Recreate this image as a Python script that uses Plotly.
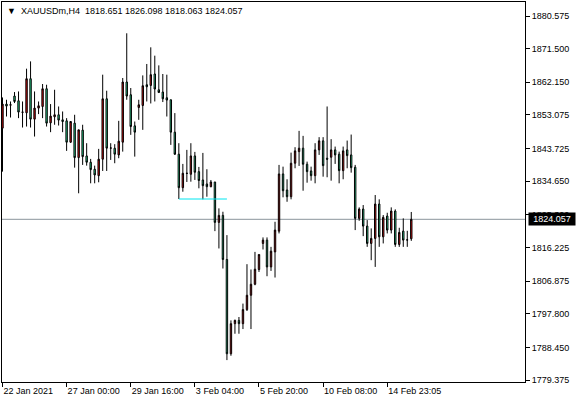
import plotly.graph_objects as go

symbol_title = "XAUUSDm,H4"

opens = [1849.41, 1856.10, 1855.80, 1858.33, 1857.01, 1853.80, 1853.67, 1863.15, 1851.91, 1854.98,
         1855.43, 1860.36, 1850.88, 1852.56, 1853.12, 1851.72, 1851.44, 1845.50, 1850.80, 1841.21,
         1848.85, 1841.68, 1839.93, 1837.98, 1836.19, 1840.77, 1857.57, 1843.83, 1843.83, 1841.96,
         1845.50, 1862.23, 1858.69, 1850.05, 1855.15, 1855.71, 1861.48, 1861.28, 1864.46, 1860.08,
         1859.44, 1857.86, 1857.30, 1848.29, 1842.16, 1832.85, 1836.80, 1836.58, 1841.68, 1837.31,
         1834.99, 1833.88, 1833.13, 1834.44, 1823.20, 1825.15, 1812.89, 1786.68, 1795.04, 1795.96,
         1795.04, 1798.95, 1802.94, 1806.00, 1810.10, 1817.35, 1818.27, 1810.82, 1815.00, 1820.77,
         1836.67, 1832.21, 1830.34, 1839.65, 1842.88, 1843.83, 1839.37, 1837.50, 1836.19, 1843.36,
         1845.87, 1841.04, 1841.32, 1843.36, 1842.16, 1837.59, 1843.36, 1841.96, 1838.53, 1824.32,
         1826.91, 1822.17, 1817.35, 1818.74, 1828.30, 1819.19, 1824.96, 1821.06, 1826.35, 1817.07,
         1820.77, 1818.27, 1818.651]
highs = [1857.94, 1857.30, 1856.82, 1859.44, 1859.61, 1856.82, 1865.94, 1867.97, 1859.61, 1856.82,
         1861.67, 1861.48, 1856.10, 1860.08, 1855.43, 1854.04, 1852.19, 1851.25, 1853.12, 1848.93,
         1850.35, 1845.22, 1840.85, 1838.98, 1843.64, 1864.27, 1859.81, 1845.22, 1844.95, 1851.44,
         1863.35, 1875.78, 1860.56, 1851.25, 1857.30, 1864.07, 1867.25, 1871.88, 1869.56, 1866.86,
         1864.46, 1864.27, 1857.30, 1853.59, 1845.22, 1839.46, 1843.36, 1845.22, 1842.80, 1838.62,
         1842.52, 1837.98, 1834.99, 1834.44, 1827.10, 1826.16, 1819.66, 1795.96, 1796.16, 1796.89,
         1800.62, 1811.58, 1810.10, 1815.00, 1814.28, 1819.02, 1819.02, 1816.40, 1823.37, 1839.18,
         1838.70, 1835.19, 1842.60, 1844.11, 1848.65, 1847.26, 1840.10, 1838.70, 1845.22, 1846.90,
         1846.90, 1855.43, 1846.34, 1844.28, 1842.88, 1844.28, 1845.95, 1847.62, 1839.18, 1827.38,
         1828.02, 1823.84, 1821.53, 1830.81, 1829.61, 1825.24, 1825.88, 1827.38, 1826.82, 1821.70,
         1824.32, 1820.86, 1826.098]
lows = [1837.31, 1852.64, 1852.36, 1856.38, 1852.19, 1849.58, 1849.85, 1849.58, 1847.07, 1853.31,
        1852.19, 1849.85, 1848.29, 1850.35, 1850.13, 1848.29, 1843.08, 1845.31, 1838.42, 1831.29,
        1839.18, 1838.98, 1834.07, 1834.07, 1834.35, 1837.50, 1837.50, 1840.57, 1839.65, 1841.04,
        1842.88, 1857.30, 1847.54, 1841.49, 1851.72, 1848.93, 1856.82, 1856.27, 1856.82, 1859.16,
        1856.66, 1852.64, 1844.75, 1841.96, 1829.70, 1831.73, 1834.44, 1834.52, 1835.00, 1832.68,
        1829.61, 1830.34, 1832.96, 1820.77, 1815.95, 1810.38, 1784.91, 1786.12, 1792.24, 1792.24,
        1793.54, 1798.56, 1793.54, 1805.72, 1809.43, 1815.67, 1808.23, 1809.71, 1807.87, 1820.13,
        1830.17, 1828.94, 1829.61, 1838.25, 1838.90, 1832.01, 1834.24, 1834.80, 1834.07, 1841.96,
        1835.91, 1835.75, 1834.80, 1839.46, 1834.07, 1835.19, 1838.25, 1837.03, 1821.06, 1823.65,
        1819.38, 1816.40, 1812.69, 1810.82, 1816.40, 1817.35, 1820.13, 1820.13, 1816.40, 1816.40,
        1816.40, 1816.40, 1818.063]
closes = [1856.10, 1855.54, 1855.90, 1856.82, 1853.87, 1853.87, 1863.15, 1851.91, 1854.98, 1855.62,
          1860.36, 1850.80, 1852.75, 1853.12, 1851.64, 1851.25, 1845.50, 1851.25, 1841.21, 1848.93,
          1841.49, 1839.93, 1837.87, 1836.39, 1840.77, 1857.57, 1843.83, 1843.90, 1842.16, 1845.78,
          1862.23, 1858.33, 1849.85, 1848.29, 1855.90, 1861.20, 1860.92, 1864.27, 1860.28, 1859.33,
          1857.57, 1857.21, 1848.29, 1842.16, 1832.85, 1836.86, 1836.86, 1841.68, 1837.14, 1834.85,
          1833.41, 1833.13, 1834.44, 1823.20, 1825.15, 1812.89, 1786.68, 1795.04, 1795.96, 1795.04,
          1798.95, 1802.94, 1806.00, 1810.18, 1814.28, 1818.27, 1810.82, 1815.20, 1821.06, 1836.67,
          1832.01, 1830.34, 1839.65, 1843.08, 1843.83, 1839.37, 1837.31, 1836.19, 1843.36, 1845.87,
          1838.98, 1840.77, 1843.36, 1841.96, 1837.59, 1843.08, 1841.77, 1838.42, 1824.32, 1826.91,
          1822.17, 1817.35, 1818.74, 1828.30, 1819.19, 1824.60, 1821.06, 1826.35, 1817.07, 1820.41,
          1818.27, 1818.35, 1824.057]

x_tick_index = [0, 16, 32, 48, 64, 80, 96]
x_tick_labels = ["22 Jan 2021", "27 Jan 00:00", "29 Jan 16:00", "3 Feb 04:00",
                 "5 Feb 20:00", "10 Feb 08:00", "14 Feb 23:05"]
y_tick_values = [1779.375, 1788.450, 1797.800, 1806.875, 1816.225, 1825.300,
                 1834.650, 1843.725, 1853.075, 1862.150, 1871.500, 1880.575]

level_start, level_end = 44, 56  # horizontal level drawn at the low of bar 44

bars = list(range(len(opens)))
FONT = "Liberation Sans, Arial, sans-serif"
UP_FILL = "#ee1010"
DOWN_FILL = "#2ef0a0"

fig = go.Figure(go.Candlestick(
    x=bars, open=opens, high=highs, low=lows, close=closes,
    increasing=dict(fillcolor=UP_FILL, line=dict(color="black", width=1)),
    decreasing=dict(fillcolor=DOWN_FILL, line=dict(color="black", width=1)),
    whiskerwidth=0, hoverinfo="skip",
))

fig.add_shape(type="line", xref="x", yref="y",
              x0=level_start, x1=level_end, y0=lows[level_start], y1=lows[level_start],
              line=dict(color="#00e6f0", width=1))
fig.add_shape(type="line", xref="paper", yref="y", x0=0, x1=1,
              y0=closes[-1], y1=closes[-1], line=dict(color="#8a949c", width=1), layer="below")

fig.add_annotation(xref="paper", yref="y", x=1, y=closes[-1], xanchor="left", yanchor="middle",
                   xshift=3, text=f"{closes[-1]:.3f}", showarrow=False, bgcolor="black",
                   font=dict(family=FONT, size=9, color="white"), borderpad=1, width=44)

title_text = ("\u25BC\u00a0\u00a0" + symbol_title + "\u00a0\u00a0"
              + " ".join(f"{v:.3f}" for v in (opens[-1], highs[-1], lows[-1], closes[-1])))
fig.add_annotation(xref="paper", yref="paper", x=0, y=1, xanchor="left", yanchor="top",
                   xshift=3, yshift=-2, text=title_text, showarrow=False,
                   font=dict(family=FONT, size=9, color="black"))

fig.update_layout(
    width=577, height=403, autosize=False,
    margin=dict(l=2, r=52, t=2, b=21),
    paper_bgcolor="white", plot_bgcolor="white",
    showlegend=False, boxgap=0.5,
    font=dict(family=FONT, size=9, color="black"),
    xaxis=dict(range=[-0.125, 130.375], rangeslider=dict(visible=False), showgrid=False,
               zeroline=False, showline=True, mirror=True, linecolor="black", linewidth=1,
               tickmode="array", tickvals=x_tick_index, ticktext=x_tick_labels,
               ticks="outside", ticklen=4, tickcolor="black",
               ticklabelposition="outside right", tickfont=dict(family=FONT, size=9)),
    yaxis=dict(side="right", range=[1778.82, 1884.48], showgrid=False, zeroline=False,
               showline=True, mirror=True, linecolor="black", linewidth=1,
               tickmode="array", tickvals=y_tick_values,
               ticktext=[f"{v:.3f}" for v in y_tick_values],
               ticks="outside", ticklen=4, tickcolor="black",
               tickfont=dict(family=FONT, size=9)),
)

fig.write_html("out.html", config={"displayModeBar": False, "staticPlot": True},
               post_script="document.body.style.margin='0';")
